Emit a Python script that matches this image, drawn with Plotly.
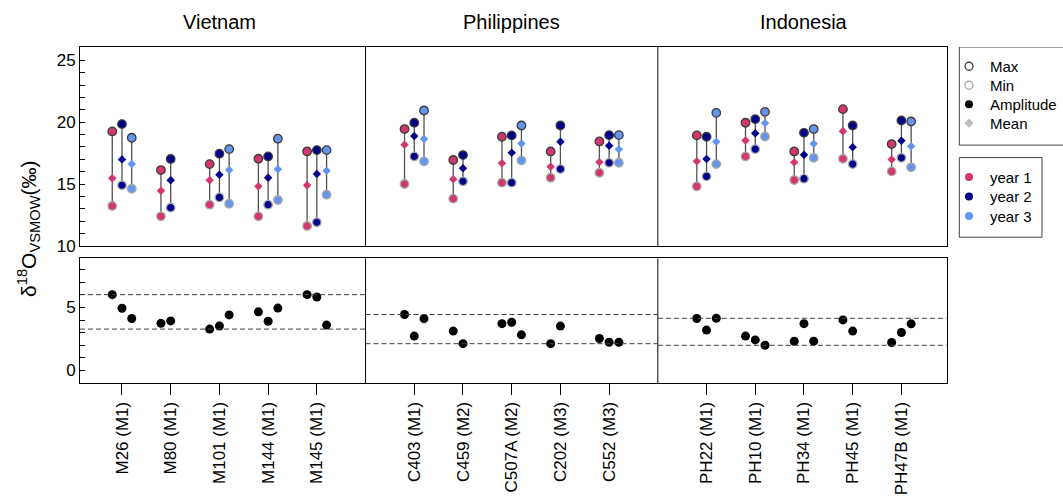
import plotly.graph_objects as go

# ---------------- data ----------------
samples = ["M26 (M1)", "M80 (M1)", "M101 (M1)", "M144 (M1)", "M145 (M1)",
           "C403 (M1)", "C459 (M2)", "C507A (M2)", "C202 (M3)", "C552 (M3)",
           "PH22 (M1)", "PH10 (M1)", "PH34 (M1)", "PH45 (M1)", "PH47B (M1)"]
countries = ["Vietnam", "Philippines", "Indonesia"]
sample_country = [0]*5 + [1]*5 + [2]*5
sample_index = [0, 1, 2, 3, 4]*3

y1_max = [19.25, 16.13, 16.61, 17.04, 17.63, 19.44, 16.94, 18.82, 17.63, 18.44, 18.93, 19.95, 17.63, 21.05, 18.23]
y1_mean = [15.46, 14.46, 15.30, 14.81, 14.90, 18.17, 15.38, 16.67, 16.40, 16.77, 16.83, 18.52, 16.75, 19.27, 16.99]
y1_min = [13.23, 12.39, 13.33, 12.39, 11.61, 15.00, 13.82, 15.11, 15.51, 15.91, 14.81, 17.23, 15.32, 17.04, 16.02]

y2_max = [19.84, 17.02, 17.45, 17.23, 17.74, 19.95, 17.34, 18.93, 19.73, 18.95, 18.82, 20.24, 19.14, 19.73, 20.13]
y2_mean = [16.99, 15.30, 15.75, 15.51, 15.81, 18.87, 16.27, 17.53, 18.41, 18.09, 17.02, 19.11, 17.37, 17.98, 18.49]
y2_min = [14.90, 13.09, 13.92, 13.33, 11.91, 17.23, 15.22, 15.11, 16.21, 16.72, 15.62, 17.82, 15.43, 16.61, 17.12]

y3_max = [18.74, None, 17.82, 18.66, 17.74, 20.94, None, 19.73, None, 18.95, 20.75, 20.83, 19.44, None, 20.05]
y3_mean = [16.61, None, 16.13, 16.19, 16.08, 18.63, None, 18.28, None, 17.80, 18.41, 19.92, 18.25, None, 18.06]
y3_min = [14.62, None, 13.41, 13.71, 14.14, 16.83, None, 16.91, None, 16.72, 16.61, 18.84, 17.12, None, 16.35]

year_names = ["year 1", "year 2", "year 3"]
year_colors = ["#D1366F", "#00008B", "#6495ED"]
years = [(y1_max, y1_mean, y1_min), (y2_max, y2_mean, y2_min), (y3_max, y3_mean, y3_min)]

stat_names = ["Max", "Min", "Amplitude", "Mean"]

# ---------------- layout helpers ----------------
W, H = 1063, 502
ML, MT, MB = 80, 46.7, 118.7
PLOT_RIGHT = 946.7
GROUP_STEP = 6
YEAR_OFF = [-0.2, 0.0, 0.2]
pos = [1 + GROUP_STEP*g + i for g, i in zip(sample_country, sample_index)]
XR = [0.138, 17.93]
dividers = [GROUP_STEP*(g+1) for g in range(len(countries)-1)]
FONT = "Liberation Sans, Arial, sans-serif"
xdom = [0, (PLOT_RIGHT - ML) / (W - ML)]

fig = go.Figure()

amp_x, amp_y = [], []
for k, (mx, mn_, mi) in enumerate(years):
    col = year_colors[k]
    sx, sy = [], []
    xs, ymax, ymean, ymin = [], [], [], []
    for p, a, m, b in zip(pos, mx, mn_, mi):
        if a is None:
            continue
        xv = p + YEAR_OFF[k]
        sx += [xv, xv, None]
        sy += [b, a, None]
        xs.append(xv); ymax.append(a); ymean.append(m); ymin.append(b)
        amp_x.append(xv); amp_y.append(a - b)
    fig.add_trace(go.Scatter(x=sx, y=sy, mode="lines", line=dict(color="#505050", width=1.3),
                             showlegend=False, hoverinfo="skip", xaxis="x", yaxis="y"))
    fig.add_trace(go.Scatter(x=xs, y=ymin, mode="markers", showlegend=False, xaxis="x", yaxis="y",
                             marker=dict(symbol="circle", size=8.5, color=col,
                                         line=dict(color="#A8A8A8", width=1.3))))
    fig.add_trace(go.Scatter(x=xs, y=ymax, mode="markers", showlegend=False, xaxis="x", yaxis="y",
                             marker=dict(symbol="circle", size=8.5, color=col,
                                         line=dict(color="#3C3C3C", width=1.3))))
    fig.add_trace(go.Scatter(x=xs, y=ymean, mode="markers", showlegend=False, xaxis="x", yaxis="y",
                             marker=dict(symbol="diamond", size=6.5, color=col, line=dict(width=0))))

fig.add_trace(go.Scatter(x=amp_x, y=amp_y, mode="markers", showlegend=False, xaxis="x2", yaxis="y2",
                         marker=dict(symbol="circle", size=9, color="black", line=dict(width=0))))

# ---------------- manual legend on a pixel-coordinate overlay axis ----------------
LEG_SYM_X, LEG_TXT_X = 969, 988
leg1_rows = [66, 85, 104, 123]
leg2_rows = [177, 196.5, 216]
leg1_markers = [dict(symbol="circle-open", size=8, color="#3C3C3C", line=dict(width=1.3)),
                dict(symbol="circle-open", size=8, color="#A8A8A8", line=dict(width=1.3)),
                dict(symbol="circle", size=8, color="black"),
                dict(symbol="diamond", size=7, color="#BEBEBE")]
annotations = []
for name, row, mk in zip(stat_names, leg1_rows, leg1_markers):
    fig.add_trace(go.Scatter(x=[LEG_SYM_X], y=[row], mode="markers", marker=mk, showlegend=False,
                             hoverinfo="skip", xaxis="x3", yaxis="y3"))
    annotations.append(dict(text=name, xref="x3", yref="y3", x=LEG_TXT_X, y=row, showarrow=False,
                            xanchor="left", yanchor="middle", font=dict(size=15, family=FONT, color="black")))
for k, row in enumerate(leg2_rows):
    fig.add_trace(go.Scatter(x=[LEG_SYM_X], y=[row], mode="markers", showlegend=False, hoverinfo="skip",
                             marker=dict(symbol="circle", size=8, color=year_colors[k]),
                             xaxis="x3", yaxis="y3"))
    annotations.append(dict(text=year_names[k], xref="x3", yref="y3", x=LEG_TXT_X, y=row, showarrow=False,
                            xanchor="left", yanchor="middle", font=dict(size=15, family=FONT, color="black")))

shapes = []
for d in dividers:
    for ya in ["y", "y2"]:
        shapes.append(dict(type="line", xref="x", yref=ya + " domain", x0=d, x1=d, y0=0, y1=1,
                           line=dict(color="black", width=1)))
bounds = [XR[0]] + dividers + [XR[1]]
for g in range(len(countries)):
    vals = [v for v, x in zip(amp_y, amp_x) if bounds[g] < x < bounds[g+1]]
    for v in (max(vals), min(vals)):
        shapes.append(dict(type="line", xref="x2", yref="y2", x0=bounds[g], x1=bounds[g+1], y0=v, y1=v,
                           line=dict(color="#404040", width=1, dash="5px,3px")))
shapes.append(dict(type="rect", xref="x3", yref="y3", x0=959.3, x1=1075, y0=46.7, y1=145,
                   line=dict(color="#404040", width=1)))
shapes.append(dict(type="rect", xref="x3", yref="y3", x0=959.3, x1=1042, y0=157.5, y1=237.3,
                   line=dict(color="#404040", width=1)))

for g, c in enumerate(countries):
    annotations.append(dict(text=c, xref="x", yref="paper", x=3 + GROUP_STEP*g,
                            y=(H - MB - 22) / (H - MB - MT),
                            showarrow=False, xanchor="center", yanchor="middle",
                            font=dict(size=20, family=FONT, color="black")))
annotations.append(dict(text="δ<sup>18</sup>O<sub>VSMOW</sub>(‰)", xref="paper", yref="paper",
                        x=(29 - ML) / (W - ML), y=(H - MB - 229) / (H - MB - MT),
                        textangle=-90, showarrow=False, xanchor="center", yanchor="middle",
                        font=dict(size=21, family=FONT, color="black")))

axis_common = dict(showline=True, linecolor="black", linewidth=1, mirror=True,
                   showgrid=False, zeroline=False)

fig.update_layout(
    width=W, height=H,
    margin=dict(l=ML, r=0, t=MT, b=MB, autoexpand=False),
    paper_bgcolor="white", plot_bgcolor="rgba(0,0,0,0)",
    font=dict(family=FONT, size=17, color="black"),
    showlegend=False,
    xaxis=dict(domain=xdom, anchor="y", range=XR, showticklabels=False, ticks="", **axis_common),
    yaxis=dict(domain=[0.408, 1], anchor="x", range=[10, 26.07], dtick=5, tick0=0,
               ticks="inside", ticklen=5, tickcolor="black",
               minor=dict(dtick=1, tick0=0, ticks="inside", ticklen=5, tickcolor="black"),
               tickfont=dict(size=17), **axis_common),
    xaxis2=dict(domain=xdom, anchor="y2", range=XR, tickvals=pos, ticktext=samples,
                tickangle=-90, ticks="outside", ticklen=11, tickcolor="black",
                tickfont=dict(size=17), **axis_common),
    yaxis2=dict(domain=[0, 0.371], anchor="x2", range=[-1.01, 8.91], dtick=5, tick0=0,
                ticks="inside", ticklen=5, tickcolor="black",
                minor=dict(dtick=1, tick0=0, ticks="inside", ticklen=5, tickcolor="black"),
                tickfont=dict(size=17), **axis_common),
    xaxis3=dict(domain=[0, 1], anchor="y3", range=[ML, W], visible=False, fixedrange=True),
    yaxis3=dict(domain=[0, 1], anchor="x3", range=[H - MB, MT], visible=False, fixedrange=True),
    shapes=shapes, annotations=annotations,
)

fig.write_html("out.html", config={"displayModeBar": False},
               post_script="document.body.style.margin='0px';")
